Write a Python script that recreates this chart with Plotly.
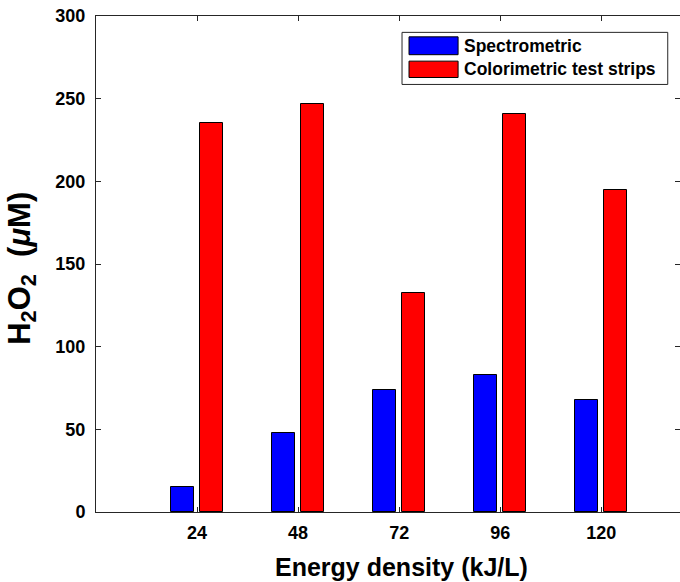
import plotly.graph_objects as go

energy = [24, 48, 72, 96, 120]
x_tick_labels = ["24", "48", "72", "96", "120"]
series_names = ["Spectrometric", "Colorimetric test strips"]
spectrometric = [15, 48, 74, 83, 68]
colorimetric = [235.5, 247, 132.5, 241, 194.5]
y_ticks = [0, 50, 100, 150, 200, 250, 300]
y_tick_labels = ["0", "50", "100", "150", "200", "250", "300"]
colors = ["#0000ff", "#ff0000"]

FONT = "Arial, Liberation Sans, sans-serif"

fig = go.Figure()
fig.add_trace(go.Bar(x=energy, y=spectrometric, name=series_names[0], width=5.6, offset=-6.3,
                     marker=dict(color=colors[0], line=dict(color="black", width=1)), showlegend=False))
fig.add_trace(go.Bar(x=energy, y=colorimetric, name=series_names[1], width=5.6, offset=0.6,
                     marker=dict(color=colors[1], line=dict(color="black", width=1)), showlegend=False))
# invisible trace to host right-side mirrored ticks
fig.add_trace(go.Scatter(x=[energy[0]], y=[y_ticks[0]], yaxis="y2", mode="markers",
                         marker=dict(opacity=0), showlegend=False, hoverinfo="skip"))

fig.update_layout(
    width=680, height=582,
    margin=dict(l=96, r=0, t=16, b=70),
    paper_bgcolor="white", plot_bgcolor="white",
    font=dict(family=FONT, color="black"),
    bargap=0,
    xaxis=dict(range=[0, 138.7], tickvals=energy, ticktext=["<b>%s</b>" % t for t in x_tick_labels],
               ticks="inside", ticklen=5, tickcolor="#262626",
               showline=True, linecolor="#262626", linewidth=1, mirror="ticks",
               showgrid=False, zeroline=False, ticklabelstandoff=4,
               tickfont=dict(size=18, family=FONT, color="black")),
    yaxis=dict(range=[0, 300], tickvals=y_ticks, ticktext=["<b>%s</b>" % t for t in y_tick_labels],
               ticks="inside", ticklen=5, tickcolor="#262626",
               showline=True, linecolor="#262626", linewidth=1,
               showgrid=False, zeroline=False, ticklabelstandoff=6,
               tickfont=dict(size=18, family=FONT, color="black")),
    yaxis2=dict(range=[0, 300], tickvals=y_ticks, overlaying="y", side="right", ticks="inside",
                ticklen=5, tickcolor="#262626", showline=False, showgrid=False, zeroline=False,
                showticklabels=False),
)

# x-axis title
fig.add_annotation(xref="paper", yref="paper", x=(401 - 96) / 584, y=-0.111,
                   text="<b>Energy density (kJ/L)</b>", showarrow=False,
                   xanchor="center", yanchor="middle", font=dict(size=25, family=FONT, color="black"))

# y-axis title
fig.add_annotation(xref="paper", yref="paper", x=-0.127, y=0.492, textangle=-90,
                   text="<b>H<sub>2</sub>O<sub>2</sub>  (<i>μ</i>M)</b>", showarrow=False,
                   xanchor="center", yanchor="middle", font=dict(size=31, family=FONT, color="black"))

# custom legend box matching the original
lx0, lx1, ly0, ly1 = 0.524, 0.979, 0.862, 0.967
fig.add_shape(type="rect", xref="paper", yref="paper", x0=lx0, x1=lx1, y0=ly0, y1=ly1,
              line=dict(color="#262626", width=1), fillcolor="white", layer="above")
rows = [(0.922, 0.958), (0.876, 0.909)]
for name, col, (y0, y1) in zip(series_names, colors, rows):
    fig.add_shape(type="rect", xref="paper", yref="paper", x0=0.536, x1=0.620, y0=y0, y1=y1,
                  line=dict(color="black", width=1), fillcolor=col, layer="above")
    fig.add_annotation(xref="paper", yref="paper", x=0.627, y=(y0 + y1) / 2, text="<b>%s</b>" % name,
                       showarrow=False, xanchor="left", yanchor="middle",
                       font=dict(size=17.5, family=FONT, color="black"))

fig.write_html("out.html")
